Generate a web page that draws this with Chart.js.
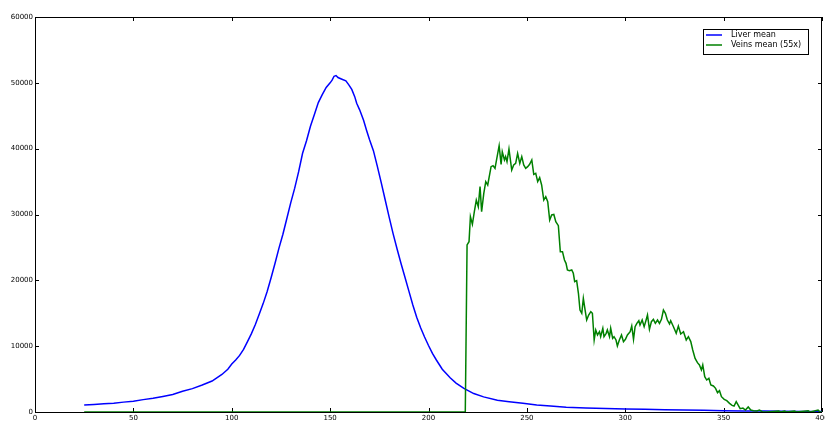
<!DOCTYPE html>
<html>
<head>
<meta charset="utf-8">
<script src="https://cdn.jsdelivr.net/npm/chart.js@4.4.1/dist/chart.umd.min.js"></script>
<style>
  html, body { margin: 0; padding: 0; background: #fff; }
  canvas { display: block; }
</style>
</head>
<body>
<canvas id="histChart" width="825" height="421"></canvas>
<script>
// x positions and values
const liverX = [25, 30, 35, 40, 45, 50, 55, 60, 65, 70, 75, 80, 85, 90, 95, 98, 100, 102, 104, 106, 108, 110,
  112, 114, 116, 118, 120, 122, 124, 126, 128, 130, 132, 134, 136, 138, 140, 142, 144, 146, 148, 150, 151,
  152, 153, 154, 156, 158, 159.5, 161, 162.5, 163.5, 165, 167, 168.5, 170, 172, 174, 176, 178, 180, 182,
  184, 186, 188, 190, 192, 194, 196, 198, 200, 202, 204, 207, 211, 214, 218, 223, 228, 235, 241, 248, 255, 262,
  270, 280, 290, 300, 310, 320, 330, 340, 350, 360, 370, 380, 390, 400];
const liverY = [1060, 1150, 1250, 1330, 1500, 1650, 1880, 2080, 2350, 2650, 3150, 3550, 4100, 4700, 5700, 6500,
  7300, 7900, 8600, 9500, 10700, 11900, 13300, 14900, 16500, 18300, 20400, 22600, 24900, 27000, 29400, 31800,
  34000, 36500, 39300, 41200, 43400, 45200, 47000, 48200, 49300, 50000, 50400, 51000, 51100, 50800, 50550,
  50300, 49700, 49000, 47900, 46900, 45900, 44300, 42800, 41400, 39700, 37300, 34800, 32200, 29600, 27100,
  24800, 22600, 20500, 18400, 16300, 14400, 12800, 11400, 10100, 8900, 7900, 6500, 5200, 4400, 3600, 2800, 2300,
  1800, 1570, 1320, 1060, 900, 710, 620, 540, 460, 400, 350, 300, 250, 200, 170, 140, 110, 80, 60];

const veinsX = [25, 218.7, 219.6, 220.6, 221.3, 222.3, 223.3, 224.3, 225.3, 226.2, 227.0, 228.1, 229.1, 230.1,
  231.8, 232.8, 233.8, 235.9, 236.9, 237.5, 238.6, 239.2, 239.9, 240.9, 242.3, 243.3, 244.3, 245.3, 246.4,
  247.4, 248.4, 249.4, 250.4, 251.4, 252.5, 253.5, 254.5, 255.5, 256.5, 257.5, 258.6, 259.6, 260.6, 261.6,
  262.6, 263.7, 264.7, 266.0, 267.0, 268.1, 269.1, 269.9, 270.6, 271.6, 272.8, 273.6, 274.3, 275.3, 276.2,
  277.0, 277.9, 278.7, 279.6, 280.4, 281.4, 282.5, 283.3, 284.2, 285.0, 285.9, 286.9, 287.5, 288.6, 289.2,
  290.3, 290.9, 292.0, 292.6, 293.6, 294.3, 295.3, 296.0, 297.0, 298.1, 299.1, 300.1, 301.1, 302.5, 303.3,
  304.2, 305.0, 305.9, 306.9, 307.5, 308.6, 309.6, 310.6, 311.3, 312.3, 313.3, 314.3, 315.3, 316.4, 317.4,
  318.4, 319.4, 320.4, 321.4, 322.5, 323.1, 324.5, 325.9, 327.0, 328.2, 329.6, 331.0, 332.1, 333.3, 334.3,
  335.5, 336.7, 337.7, 338.7, 339.4, 340.4, 341.4, 342.5, 343.5, 344.8, 345.9, 346.9, 347.9, 348.9, 350.3,
  351.6, 353.0, 354.3, 355.3, 356.4, 357.4, 358.4, 359.8, 361.1, 362.5, 363.8, 365.2, 366.9, 368.2, 369.6,
  372, 378, 379, 381, 382, 386, 387, 393, 394, 398, 399, 400];
const veinsY = [0, 0, 25370, 25870, 29670, 28500, 30430, 32200, 31190, 34230, 30430, 33220, 34990, 34480,
  37270, 37420, 37010, 40450, 37620, 39540, 38280, 38790, 38030, 39950, 36760, 37520, 37770, 39290, 37770,
  38790, 37520, 37010, 37270, 37620, 38280, 36100, 36260, 34990, 35600, 34480, 32200, 32710, 31950, 29160,
  29930, 30000, 28910, 28300, 24350, 24350, 23090, 22580, 21570, 21470, 21570, 21070, 19800, 19950, 18030,
  15490, 14990, 17270, 15490, 13970, 14730, 15240, 14990, 10940, 12460, 11700, 12200, 11440, 12710, 11440,
  11950, 12460, 11440, 12710, 11200, 11440, 10940, 10030, 10940, 11700, 10690, 11040, 11700, 12200, 13060,
  11040, 12960, 13470, 13870, 13220, 13970, 12960, 13970, 14730, 12560, 13720, 14080, 13470, 13970, 13470,
  14080, 15490, 14990, 13970, 13370, 13870, 12960, 11950, 13060, 11850, 12200, 10940, 11440, 10690, 9420,
  8150, 7490, 7140, 6380, 7140, 5370, 4860, 5110, 4100, 3950, 3590, 2940, 3240, 2330, 1920,
  1720, 1320, 1010, 910, 1570, 1060, 510, 600, 300, 760, 300, 200, 150, 300, 50,
  0, 150, 0, 150, 0, 150, 0, 200, 0, 300, 0, 0];

const xTicks = [0, 50, 100, 150, 200, 250, 300, 350, 400];
const yTicks = [0, 10000, 20000, 30000, 40000, 50000, 60000];
const seriesNames = ['Liver mean', 'Veins mean (55x)'];
const seriesColors = ['#0000ff', '#008000'];

const toPoints = (xs, ys) => xs.map((x, i) => ({ x: x, y: ys[i] }));

// frame with inward ticks on all four sides, like the classic matplotlib look
const framePlugin = {
  id: 'frame',
  beforeDatasetsDraw(chart) {
    const { ctx, chartArea: a, scales } = chart;
    ctx.save();
    ctx.strokeStyle = '#000';
    ctx.lineWidth = 1;
    ctx.strokeRect(a.left + 0.5, a.top + 0.5, a.right - a.left - 1, a.bottom - a.top);
    ctx.beginPath();
    xTicks.forEach(v => {
      const px = Math.round(scales.x.getPixelForValue(v)) + 0.5;
      ctx.moveTo(px, a.bottom); ctx.lineTo(px, a.bottom - 4);
      ctx.moveTo(px, a.top); ctx.lineTo(px, a.top + 4);
    });
    yTicks.forEach(v => {
      const py = Math.round(scales.y.getPixelForValue(v)) + 0.5;
      ctx.moveTo(a.left, py); ctx.lineTo(a.left + 4, py);
      ctx.moveTo(a.right, py); ctx.lineTo(a.right - 4, py);
    });
    ctx.stroke();
    ctx.restore();
  }
};

// boxed legend in the upper right corner of the plot
const legendPlugin = {
  id: 'boxLegend',
  afterDraw(chart) {
    const { ctx, chartArea: a } = chart;
    const w = 105, h = 25;
    const x0 = a.right - 14 - w, y0 = a.top + 12;
    ctx.save();
    ctx.fillStyle = '#fff';
    ctx.fillRect(x0, y0, w, h);
    ctx.strokeStyle = '#000';
    ctx.lineWidth = 1;
    ctx.strokeRect(x0 + 0.5, y0 + 0.5, w, h);
    ctx.font = '8px "DejaVu Sans"';
    ctx.textBaseline = 'middle';
    chart.data.datasets.forEach((ds, i) => {
      const yy = y0 + 6 + i * 10;
      ctx.strokeStyle = ds.borderColor;
      ctx.lineWidth = 1.5;
      ctx.beginPath();
      ctx.moveTo(x0 + 3, yy); ctx.lineTo(x0 + 19, yy);
      ctx.stroke();
      ctx.fillStyle = '#000';
      ctx.fillText(ds.label, x0 + 28, yy);
    });
    ctx.restore();
  }
};

const ctx = document.getElementById('histChart').getContext('2d');
new Chart(ctx, {
  type: 'line',
  data: {
    datasets: [
      {
        label: seriesNames[0],
        data: toPoints(liverX, liverY),
        borderColor: seriesColors[0],
        borderWidth: 1.5,
        pointRadius: 0,
        tension: 0,
        fill: false,
        order: 1
      },
      {
        label: seriesNames[1],
        data: toPoints(veinsX, veinsY),
        borderColor: seriesColors[1],
        borderWidth: 1.5,
        pointRadius: 0,
        tension: 0,
        fill: false,
        order: 0
      }
    ]
  },
  options: {
    responsive: false,
    animation: false,
    parsing: false,
    layout: { padding: { top: 17, right: 3, left: 0, bottom: 0 } },
    plugins: {
      legend: { display: false },
      tooltip: { enabled: false }
    },
    scales: {
      x: {
        type: 'linear',
        min: 0,
        max: 400,
        grid: { display: false, drawTicks: false },
        border: { display: false },
        ticks: {
          stepSize: 50,
          autoSkip: false,
          maxRotation: 0,
          padding: 2,
          color: '#000',
          font: { family: 'DejaVu Sans', size: 7 },
          callback: v => String(v)
        },
        afterFit(scale) {
          scale.height = 9;
          scale.paddingLeft = 0;
          scale.paddingRight = 0;
        }
      },
      y: {
        min: 0,
        max: 60000,
        grid: { display: false, drawTicks: false },
        border: { display: false },
        ticks: {
          stepSize: 10000,
          padding: 2,
          color: '#000',
          font: { family: 'DejaVu Sans', size: 7 },
          callback: v => String(v)
        },
        afterFit(scale) {
          scale.width = 35;
          scale.paddingTop = 0;
          scale.paddingBottom = 0;
        }
      }
    }
  },
  plugins: [framePlugin, legendPlugin]
});
</script>
</body>
</html>
